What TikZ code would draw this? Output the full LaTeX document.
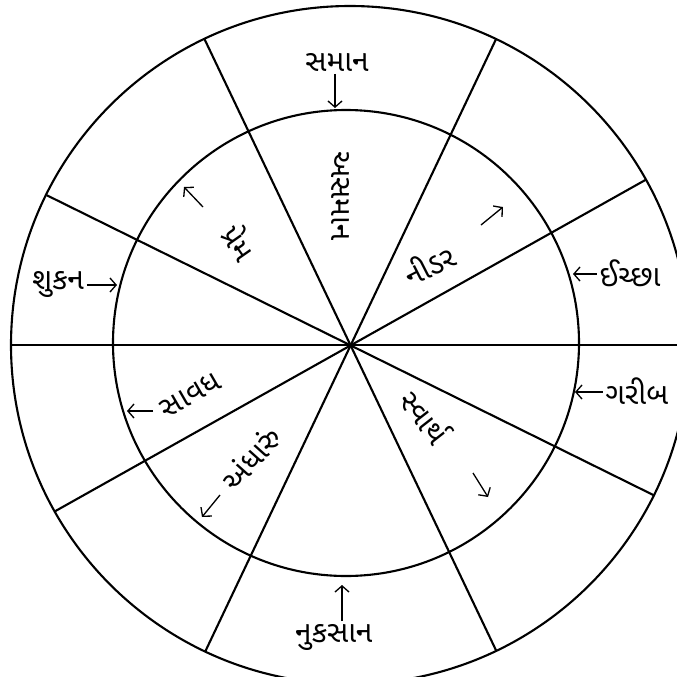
\documentclass[tikz,border=0pt]{standalone}
\usepackage{fontspec}
\newfontfamily\gujfont[Script=Gujarati]{Noto Sans Gujarati UI}
\usetikzlibrary{arrows.meta}
\tikzset{
  word/.style={font=\gujfont\fontsize{17}{20}\selectfont, inner sep=1.5pt},
  ring/.style={line width=1.2pt},
  pointer/.style={-{Straight Barb[length=3.5pt,width=8pt]}, line width=0.75pt},
}

\begin{document}
\begin{tikzpicture}[x=0.02cm,y=-0.02cm]
      \useasboundingbox (0,0) rectangle (677,677);
      \clip (0,0) rectangle (677,677);
      % Two rings and the five lines through the middle
      \coordinate (o) at (350.6,345.4);
      \draw[ring] (350,345) circle[radius=339];
      \draw[ring] (346,343) circle[radius=233];
      \foreach \a in {0,-29.3,-64.6,-115.5,-153.7} {
        \draw[ring] (o) ++(\a:339) -- ++(\a+180:678);
      }
      % Outer ring: words pointing inwards
      \node[word] (saman) at (337,62) {સમાન};
      \coordinate (saman-tip) at (335,108);
      \draw[pointer] (saman-tip |- saman.south) -- (saman-tip);
      \node[word] (ichchha) at (630,273) {ઈચ્છા};
      \coordinate (ichchha-tip) at (573,274);
      \draw[pointer] (ichchha.west |- ichchha-tip) -- (ichchha-tip);
      \node[word] (garib) at (637,391) {ગરીબ};
      \coordinate (garib-tip) at (575,392);
      \draw[pointer] (garib.west |- garib-tip) -- (garib-tip);
      \node[word] (nuksan) at (334,637) {નુકસાન};
      \coordinate (nuksan-tip) at (342,585);
      \draw[pointer] (nuksan-tip |- nuksan.north) -- (nuksan-tip);
      \node[word] (shukan) at (58,284) {શુકન};
      \coordinate (shukan-tip) at (117,285);
      \draw[pointer] (shukan.east |- shukan-tip) -- (shukan-tip);
      % Inner ring: turned words pointing outwards
      \node[word, rotate=-90] (asaman) at (341,196) {અસમાન};
      \node[word, rotate=-55] (prem) at (240,242) {પ્રેમ};
      \node[word, rotate=27] (nidar) at (429,264) {નીડર};
      \node[word, rotate=-52] (svarth) at (426,416) {સ્વાર્થ};
      \node[word, rotate=48] (andharu) at (251,458) {અંધારું};
      \node[word, rotate=30] (savadh) at (190,395) {સાવધ};
      \foreach \n/\ax/\ay/\bx/\by in {prem/203/207/184/187, nidar/481/225/503/207,
          svarth/473/473/488/497, andharu/220/495/202/517, savadh/153/411/127/411} {
        \coordinate (\n-a) at (\ax,\ay);
        \coordinate (\n-b) at (\bx,\by);
        \draw[pointer] (\n-a) -- (\n-b);
      }
    \end{tikzpicture}
\end{document}
